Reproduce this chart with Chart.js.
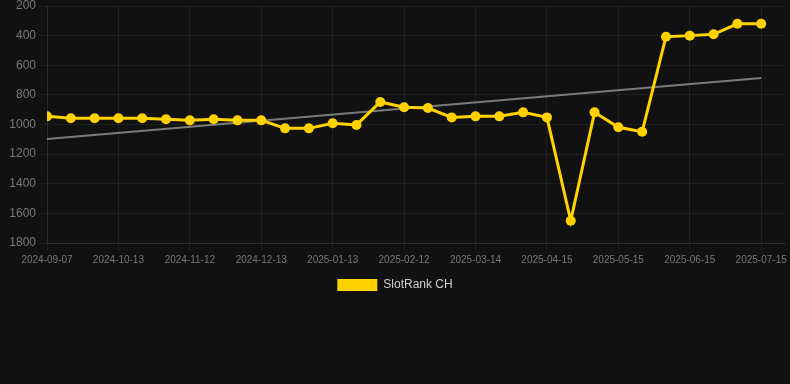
<!DOCTYPE html>
<html>
<head>
<meta charset="utf-8">
<script src="https://cdn.jsdelivr.net/npm/chart.js@4/dist/chart.umd.min.js"></script>
<style>
    html, body { margin: 0; padding: 0; background: #111111; }
    #wrap { width: 790px; height: 301px; }
</style>
</head>
<body>
<div id="wrap"><canvas id="rankChart"></canvas></div>
<script>
// Dates of each rank reading (every 3rd one is shown on the axis)
const dates = [
    '2024-09-07', '2024-09-19', '2024-10-01', '2024-10-13', '2024-10-23', '2024-11-02',
    '2024-11-12', '2024-11-22', '2024-12-02', '2024-12-13', '2024-12-23', '2025-01-03',
    '2025-01-13', '2025-01-23', '2025-02-02', '2025-02-12', '2025-02-22', '2025-03-04',
    '2025-03-14', '2025-03-24', '2025-04-04', '2025-04-15', '2025-04-25', '2025-05-05',
    '2025-05-15', '2025-05-25', '2025-06-04', '2025-06-15', '2025-06-25', '2025-07-05',
    '2025-07-15'
];
const ranks = [
    945, 958, 958, 958, 958, 965, 972, 965, 972, 972, 1026,
    1026, 992, 1003, 848, 884, 889, 952, 945, 945, 918,
    952, 1650, 918, 1019, 1049, 407, 400, 391, 320, 320
];
const trendEnds = [1098, 686];
const yTicks = [200, 400, 600, 800, 1000, 1200, 1400, 1600, 1800];

const rankPoints = ranks.map((v, i) => ({ x: i, y: v }));
const trendPoints = [
    { x: 0, y: trendEnds[0] },
    { x: dates.length - 1, y: trendEnds[1] }
];

const gridColor = 'rgba(255,255,255,0.06)';
const yellow = '#ffd200';

new Chart(document.getElementById('rankChart').getContext('2d'), {
    type: 'line',
    data: {
        datasets: [{
            label: 'SlotRank CH',
            data: rankPoints,
            borderColor: yellow,
            backgroundColor: yellow,
            borderWidth: 3,
            pointRadius: 5,
            pointBackgroundColor: yellow,
            pointBorderWidth: 0,
            tension: 0
        }, {
            label: 'Trend',
            data: trendPoints,
            borderColor: 'rgba(150,150,150,0.8)',
            borderWidth: 2,
            pointRadius: 0,
            tension: 0
        }]
    },
    options: {
        responsive: true,
        maintainAspectRatio: false,
        animation: false,
        layout: { padding: 0 },
        plugins: {
            legend: {
                position: 'bottom',
                labels: {
                    color: '#d0d0d0',
                    boxWidth: 40,
                    boxHeight: 12,
                    font: { size: 12 },
                    filter: item => item.text !== 'Trend',
                    generateLabels: chart => Chart.defaults.plugins.legend.labels.generateLabels(chart)
                        .map(item => Object.assign(item, { lineWidth: 0 }))
                }
            },
            tooltip: { enabled: false }
        },
        scales: {
            x: {
                type: 'linear',
                min: 0,
                max: 31,
                grid: { color: gridColor },
                border: { color: gridColor },
                ticks: {
                    stepSize: 3,
                    includeBounds: false,
                    maxRotation: 0,
                    color: '#777777',
                    font: { size: 10 },
                    callback: v => dates[v]
                }
            },
            y: {
                reverse: true,
                min: yTicks[0],
                max: yTicks[yTicks.length - 1],
                afterFit: scale => { scale.width = 47; scale.paddingTop = 6; },
                grid: { color: gridColor },
                border: { color: gridColor },
                ticks: {
                    stepSize: 200,
                    color: '#7a7a7a',
                    font: { size: 12, lineHeight: 0.8 },
                    callback: v => String(v)
                }
            }
        }
    }
});
</script>
</body>
</html>
